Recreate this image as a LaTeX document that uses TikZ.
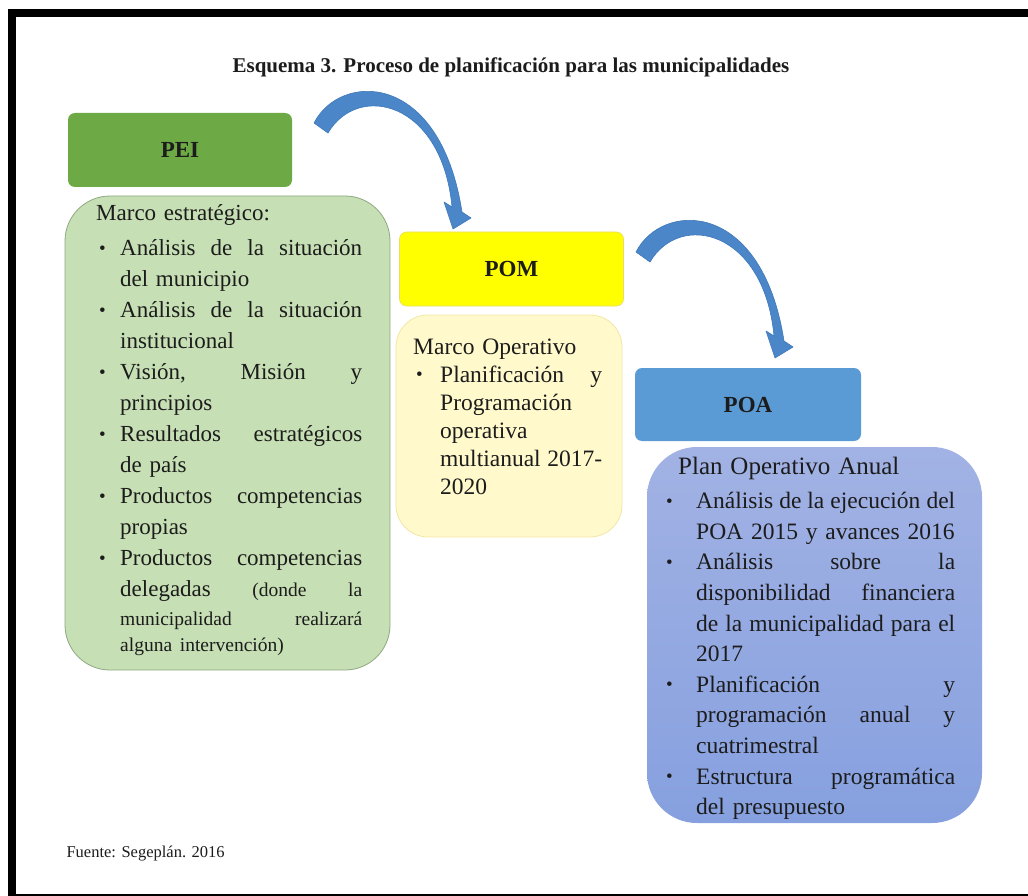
\documentclass[tikz,border=0pt]{standalone}
\usepackage{fontspec}
\setmainfont{Liberation Serif}
\newlength\tw
\newlength\hw
\hbadness=10000
\newcommand\pbul{\makebox[\hw][l]{\hspace{3pt}\raisebox{1.5pt}{\fontsize{19}{19}\selectfont\textbullet}}}
\newcommand\jbox[1]{\hbox to\tw{\spaceskip=0.25em plus 1fill\xspaceskip=0.3em plus 1fill\relax #1}}
\newcommand\pbj[1]{\noindent\pbul\jbox{#1}\par}
\newcommand\pbn[1]{\noindent\pbul#1\par}
\newcommand\pcj[1]{\noindent\hspace*{\hw}\jbox{#1}\par}
\newcommand\pcn[1]{\noindent\hspace*{\hw}#1\par}
\definecolor{peig}{HTML}{6DAA45}
\definecolor{peil}{HTML}{C6DFB4}
\definecolor{peild}{HTML}{8FA883}
\definecolor{pomy}{HTML}{FFFF00}
\definecolor{pomyd}{HTML}{EADB6A}
\definecolor{poml}{HTML}{FFF9CC}
\definecolor{pomld}{HTML}{F2E7A6}
\definecolor{poab}{HTML}{5B9BD5}
\definecolor{poat}{HTML}{A2B2E4}
\definecolor{poabt}{HTML}{86A0DF}
\definecolor{arrb}{HTML}{4A86C8}
\definecolor{arrbd}{HTML}{3F78BA}
\definecolor{txt}{HTML}{1C1C1C}
\begin{document}
\begin{tikzpicture}[x=1pt,y=-1pt,
  hdr/.style={rounded corners=7pt, minimum width=224pt, minimum height=74pt, inner sep=0pt,
    font=\fontsize{23}{28}\selectfont\bfseries, text=txt},
  bodybox/.style={inner sep=0pt},
  bodytext/.style={anchor=base west, inner sep=0pt, text=txt},
  barrow/.style={fill=arrb, draw=arrbd, line width=0.6pt, line join=round},
  pics/bendarrow/.style={code={
    \path[barrow] (0,0) .. controls (26,-51) and (126,-53) .. (148,89)
      -- (157,95) -- (139,106) -- (130,79) -- (138,84)
      .. controls (128,-22) and (44,-41) .. (14,10) -- cycle;}}
]
\useasboundingbox (0,0) rectangle (1028,896);
\fill[white] (0,0) rectangle (1028,896);
% frame
\fill[black] (8,9) rectangle (1028,17);
\fill[black] (8,9) rectangle (16,896);
\fill[black] (8,894) rectangle (1028,896);

% title
\node[font=\fontsize{21}{25}\selectfont\bfseries, text=txt] (title) at (511,67)
  {Esquema 3. Proceso de planificación para las municipalidades};

% body boxes
\node[bodybox, rounded corners=45pt, fill=peil, draw=peild, line width=0.8pt,
  minimum width=325pt, minimum height=474pt] (peib) at (227.5,433) {};
\node[bodybox, rounded corners=32pt, fill=poml, draw=pomld, line width=0.8pt,
  minimum width=226pt, minimum height=222pt] (pomb) at (509,426) {};
\node[bodybox, rounded corners=50pt, top color=poat, bottom color=poabt, draw=none,
  minimum width=335pt, minimum height=376pt] (poab) at (814.5,635) {};

% headers
\node[hdr, fill=peig] (pei) at (180,150) {PEI};
\node[hdr, fill=pomy, draw=pomyd, line width=0.6pt] (pom) at (511.5,269) {POM};
\node[hdr, fill=poab, minimum width=226pt, minimum height=73pt] (poa) at (748,404.5) {POA};

% arrows
\pic at (314,123) {bendarrow};
\pic at (636,252) {bendarrow};

% PEI text
\node[bodytext, text width=266pt, font=\fontsize{23}{31}\selectfont] (peit) at (96,221) {%
\setlength\hw{24pt}\setlength\tw{242pt}%
\noindent Marco estratégico:\par
\vspace{4pt}%
\pbj{Análisis de la situación}
\pcn{del municipio}
\pbj{Análisis de la situación}
\pcn{institucional}
\pbj{Visión, Misión y}
\pcn{principios}
\pbj{Resultados estratégicos}
\pcn{de país}
\pbj{Productos competencias}
\pcn{propias}
\pbj{Productos competencias}
\pcj{delegadas {\fontsize{19.5}{20}\selectfont (donde la}}
{\fontsize{19.5}{29}\selectfont\pcj{municipalidad realizará}}
{\fontsize{19.5}{26}\selectfont\pcn{alguna intervención)}}
};

% POM text
\node[bodytext, text width=189pt, font=\fontsize{23.5}{28}\selectfont] (pomt) at (413,354) {%
\setlength\hw{27pt}\setlength\tw{162pt}%
\noindent Marco Operativo\par
\pbj{Planificación y}
\pcn{Programación}
\pcn{operativa}
\pcj{multianual 2017-}
\pcn{2020}
};

% POA text
\node[bodytext, text width=292pt, font=\fontsize{23.5}{30.6}\selectfont] (poatx) at (663,474) {%
\setlength\hw{33pt}\setlength\tw{259pt}%
\noindent\hspace*{15pt}{\fontsize{25}{30}\selectfont Plan Operativo Anual}\par
\vspace{4pt}%
\pbj{Análisis de la ejecución del}
\pcn{POA 2015 y avances 2016}
\pbj{Análisis sobre la}
\pcj{disponibilidad financiera}
\pcj{de la municipalidad para el}
\pcn{2017}
\pbj{Planificación y}
\pcj{programación anual y}
\pcn{cuatrimestral}
\pbj{Estructura programática}
\pcn{del presupuesto}
};

% source
\node[anchor=base west, font=\fontsize{16.5}{20}\selectfont, text=txt] (src) at (63,857)
  {Fuente: Segeplán. 2016};
\end{tikzpicture}
\end{document}
